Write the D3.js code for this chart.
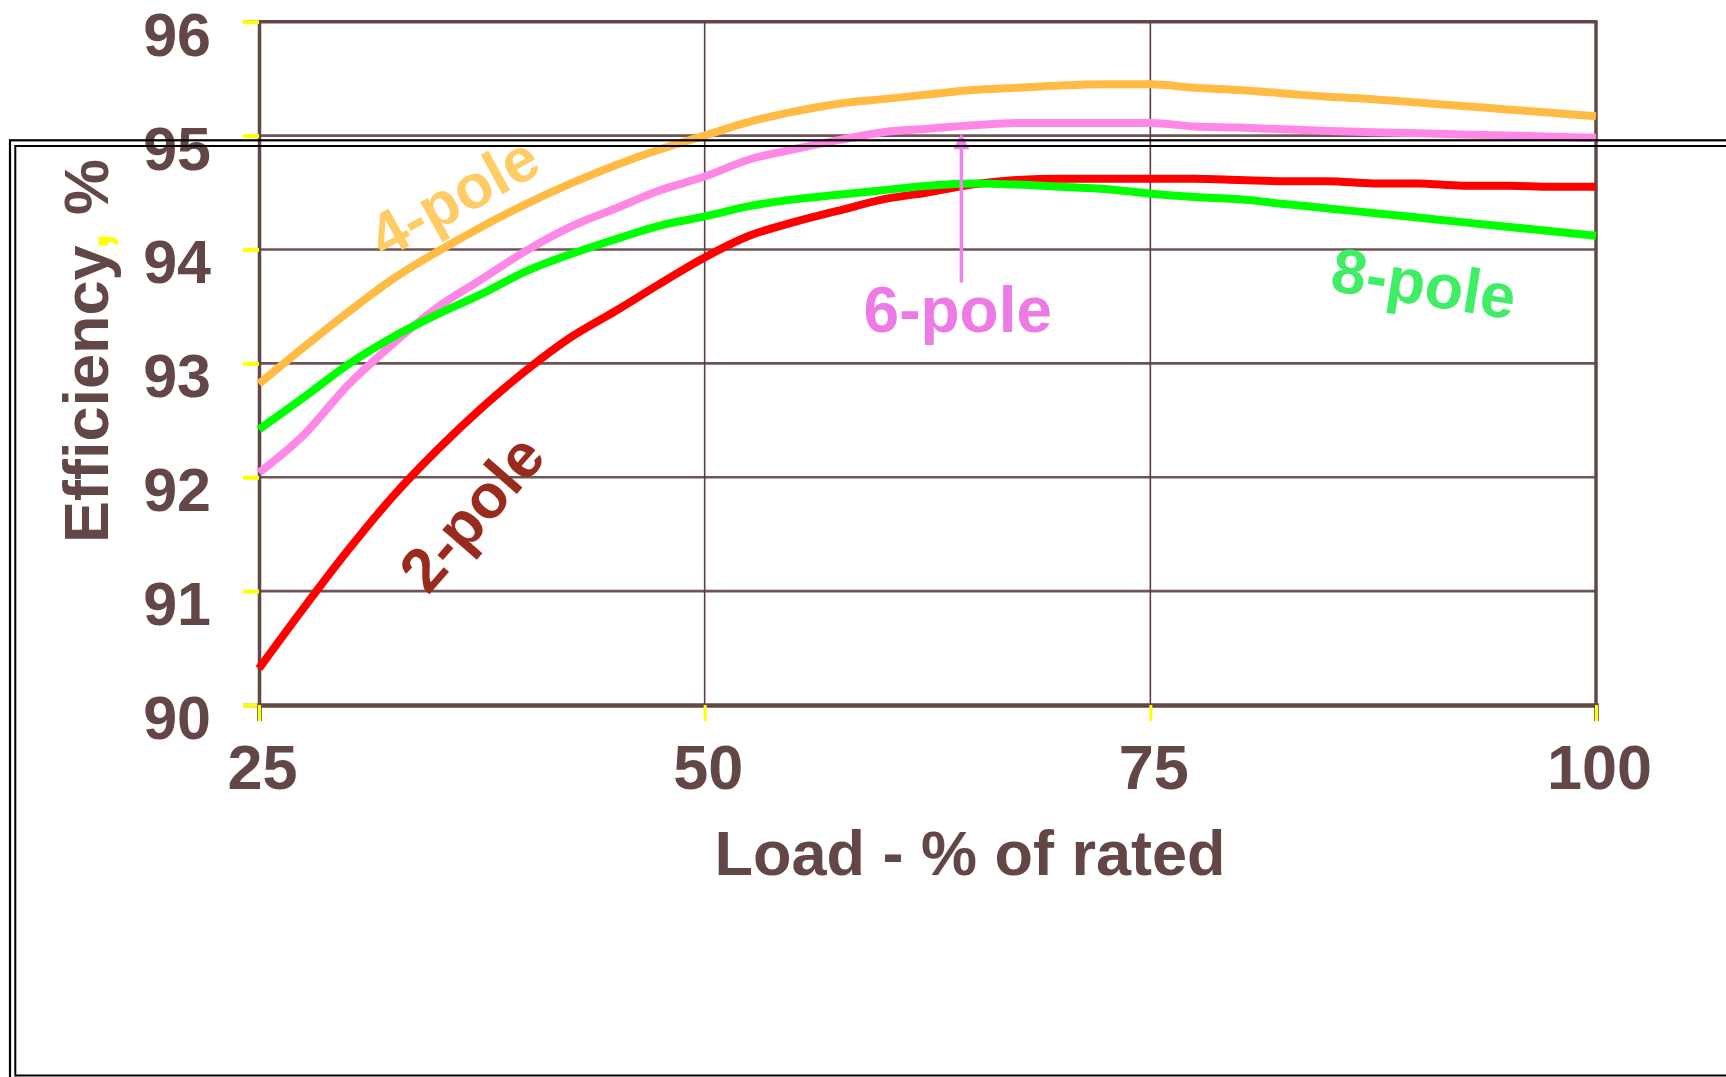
<!DOCTYPE html>
<html>
<head>
<meta charset="utf-8">
<script src="https://cdn.jsdelivr.net/npm/d3@7"></script>
<style>
  html, body { margin: 0; padding: 0; background: #fff; }
  svg { display: block; }
  text { font-family: "Liberation Sans", Arial, sans-serif; font-weight: bold; }
</style>
</head>
<body>
<svg id="chart" width="1726" height="1077"></svg>
<script>
// ---- data ----
const loads = [25, 27.5, 30, 32.5, 35, 37.5, 40, 42.5, 45, 47.5, 50, 52.5, 55, 57.5, 60, 62.5,
               65, 67.5, 70, 72.5, 75, 77.5, 80, 82.5, 85, 87.5, 90, 92.5, 95, 97.5, 100];
const pole2 = [90.32, 90.85, 91.36, 91.83, 92.24, 92.61, 92.94, 93.23, 93.46, 93.70, 93.93, 94.12,
               94.24, 94.34, 94.44, 94.50, 94.57, 94.61, 94.62, 94.62, 94.62, 94.62, 94.61, 94.60,
               94.60, 94.58, 94.58, 94.56, 94.56, 94.55, 94.55];
const pole4 = [92.82, 93.14, 93.45, 93.74, 93.98, 94.20, 94.40, 94.58, 94.74, 94.88, 95.00, 95.12,
               95.21, 95.28, 95.32, 95.36, 95.40, 95.42, 95.44, 95.45, 95.45, 95.42, 95.40, 95.37,
               95.34, 95.32, 95.29, 95.26, 95.23, 95.20, 95.17];
const pole6 = [92.04, 92.37, 92.81, 93.17, 93.49, 93.74, 93.99, 94.20, 94.36, 94.52, 94.64, 94.79,
               94.88, 94.96, 95.03, 95.06, 95.09, 95.11, 95.11, 95.11, 95.11, 95.08, 95.07, 95.055,
               95.04, 95.03, 95.02, 95.01, 95.00, 94.99, 94.98];
const pole8 = [92.42, 92.70, 92.99, 93.23, 93.43, 93.61, 93.81, 93.96, 94.09, 94.21, 94.29, 94.38,
               94.44, 94.48, 94.52, 94.56, 94.58, 94.57, 94.55, 94.53, 94.49, 94.46, 94.44, 94.40,
               94.36, 94.32, 94.28, 94.24, 94.20, 94.16, 94.12];
const xTicks = [25, 50, 75, 100];
const yTicks = [90, 91, 92, 93, 94, 95, 96];
const seriesNames = ["2-pole", "6-pole", "8-pole", "4-pole"];
const xTitle = "Load - % of rated";
const yTitleMain = "Efficiency";
const yTitleComma = ",";
const yTitleUnit = " %";
// annotation arrow (6-pole): load, from value, to value
const arrowLoad = [64.4];
const arrowFrom = [93.71];
const arrowTo = [95.02];

// ---- layout ----
const svg = d3.select("#chart");
const X0 = 259, X1 = 1596, Y0 = 705, Y1 = 21.7;
const x = d3.scaleLinear().domain([25, 100]).range([X0, X1]);
const y = d3.scaleLinear().domain([90, 96]).range([Y0, Y1]);

const textCol = "#634646";
const gridCol = "#6e5454";

// horizontal gridlines
svg.append("g").selectAll("line").data(yTicks.filter(v => v > 90 && v < 96)).join("line")
  .attr("x1", X0).attr("x2", X1).attr("y1", d => y(d)).attr("y2", d => y(d))
  .attr("stroke", gridCol).attr("stroke-width", 2.6);
// vertical gridlines
svg.append("g").selectAll("line").data(xTicks.filter(v => v > 25 && v < 100)).join("line")
  .attr("x1", d => x(d)).attr("x2", d => x(d)).attr("y1", Y1).attr("y2", Y0)
  .attr("stroke", "#5a4040").attr("stroke-width", 1.6);
// frame: top and right
svg.append("line").attr("x1", X0).attr("x2", X1).attr("y1", y(96)).attr("y2", y(96))
  .attr("stroke", textCol).attr("stroke-width", 3.5);
svg.append("line").attr("x1", x(100)).attr("x2", x(100)).attr("y1", Y1 - 1.5).attr("y2", Y0)
  .attr("stroke", textCol).attr("stroke-width", 3.5);

// axes
const yAxis = d3.axisLeft(y).tickValues(yTicks).tickSize(16).tickFormat(d3.format("d"));
const gy = svg.append("g").attr("transform", `translate(${X0},0)`).call(yAxis);
gy.select(".domain").attr("stroke", textCol).attr("stroke-width", 3.5);
gy.selectAll(".tick line").attr("stroke", "#ffff00").attr("stroke-width", 4);
gy.selectAll(".tick text").attr("x", -48).attr("dy", null).attr("y", 33.5)
  .attr("fill", textCol).style("font-size", "61px").attr("text-anchor", "end");

const xAxis = d3.axisBottom(x).tickValues(xTicks).tickSize(16).tickFormat(d3.format("d"));
const gx = svg.append("g").attr("transform", `translate(0,${Y0})`).call(xAxis);
gx.select(".domain").attr("stroke", textCol).attr("stroke-width", 4.5);
gx.selectAll(".tick line").attr("stroke", "#ffff00").attr("stroke-width", 3);
gx.selectAll(".tick text").attr("dy", null).attr("y", 84).attr("x", 3)
  .attr("fill", textCol).style("font-size", "63px").attr("text-anchor", "middle");
svg.selectAll(".domain").attr("fill", "none");
svg.selectAll("g.tick text").attr("font-family", null);

// titles
svg.append("text").attr("x", 970).attr("y", 875).attr("text-anchor", "middle")
  .attr("fill", textCol).style("font-size", "63px").text(xTitle);
const yt = svg.append("text").attr("transform", "translate(108,351) rotate(-90)")
  .attr("text-anchor", "middle").attr("fill", textCol).style("font-size", "63px");
yt.append("tspan").text(yTitleMain);
yt.append("tspan").attr("fill", "#ffff00").text(yTitleComma);
yt.append("tspan").text(yTitleUnit);

// lines
const series = [
  { name: seriesNames[0], vals: pole2, color: "#ff0000" },
  { name: seriesNames[1], vals: pole6, color: "#ff88e6" },
  { name: seriesNames[2], vals: pole8, color: "#00ff00" },
  { name: seriesNames[3], vals: pole4, color: "#ffbb44" }
];
const line = d3.line().x(d => x(d[0])).y(d => y(d[1])).curve(d3.curveMonotoneX);
svg.append("g").selectAll("path").data(series).join("path")
  .attr("d", s => line(loads.map((l, i) => [l, s.vals[i]])))
  .attr("fill", "none").attr("stroke", s => s.color).attr("stroke-width", 8)
  .attr("stroke-linejoin", "round");

// arrow for 6-pole
const ax = x(arrowLoad[0]);
svg.append("line").attr("x1", ax).attr("x2", ax).attr("y1", y(arrowFrom[0])).attr("y2", y(arrowTo[0]) + 14)
  .attr("stroke", "#ee82ee").attr("stroke-width", 3.5);
svg.append("path")
  .attr("d", `M${ax},${y(arrowTo[0])} L${ax - 8},${y(arrowTo[0]) + 16} L${ax + 8},${y(arrowTo[0]) + 16} Z`)
  .attr("fill", "#ee82ee");

// series labels
function label(txt, cx, cy, angle, size, col) {
  svg.append("text")
    .attr("transform", `translate(${cx},${cy}) rotate(${angle})`)
    .attr("text-anchor", "middle").attr("dy", "0.36em")
    .attr("fill", col).style("font-size", size + "px").text(txt);
}
label(seriesNames[3], x(35.9), y(94.47), -29, 62, "#ffcc66");
label(seriesNames[0], x(36.9), y(91.69), -49, 62, "#992a1e");
label(seriesNames[2], x(90.35), y(93.71), 9, 63, "#40ee66");
svg.append("text").attr("x", x(64.2)).attr("y", 332).attr("text-anchor", "middle")
  .attr("fill", "#ee7ae6").style("font-size", "64px").text(seriesNames[1]);

// overlay slide frame (double line)
svg.append("rect").attr("x", 10).attr("y", 140.3).attr("width", 1800).attr("height", 1000)
  .attr("fill", "none").attr("stroke", "#000").attr("stroke-width", 2.2);
svg.append("rect").attr("x", 15.3).attr("y", 146).attr("width", 1800).attr("height", 929.5)
  .attr("fill", "none").attr("stroke", "#000").attr("stroke-width", 2);
</script>
</body>
</html>
